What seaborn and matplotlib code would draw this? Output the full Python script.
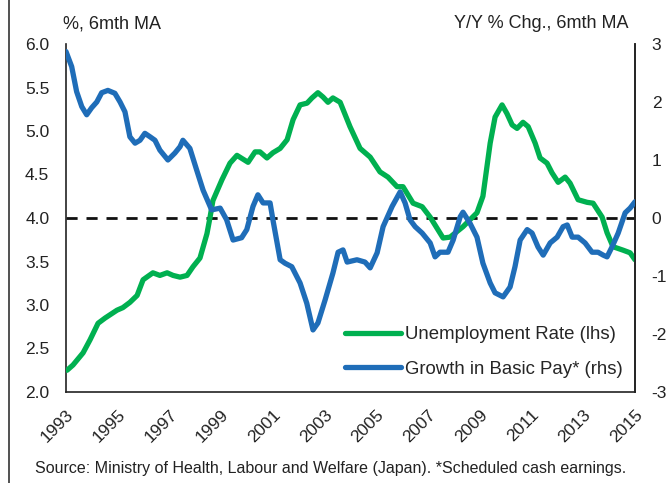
import matplotlib
matplotlib.use("Agg")
import matplotlib.pyplot as plt
import seaborn as sns
import pandas as pd
from matplotlib.lines import Line2D

sns.set_style("white")
plt.rcParams['font.family'] = ['Liberation Sans', 'DejaVu Sans']

# Unemployment rate (lhs, %, 6mth MA)
unemp_years = [1993.04, 1993.27, 1993.66, 1993.93, 1994.24, 1994.51, 1994.97, 1995.20, 1995.47,
               1995.75, 1995.98, 1996.36, 1996.63, 1996.91, 1997.14, 1997.41, 1997.68, 1997.91,
               1998.18, 1998.45, 1998.57, 1998.68, 1999.03, 1999.34, 1999.61, 2000.04, 2000.31,
               2000.50, 2000.77, 2001.00, 2001.28, 2001.55, 2001.78, 2002.05, 2002.32, 2002.51,
               2002.74, 2002.94, 2003.13, 2003.32, 2003.60, 2003.98, 2004.37, 2004.76, 2005.14,
               2005.45, 2005.80, 2006.03, 2006.42, 2006.77, 2007.08, 2007.58, 2007.85, 2008.35,
               2008.89, 2009.12, 2009.40, 2009.59, 2009.86, 2010.05, 2010.25, 2010.44, 2010.67,
               2010.87, 2011.14, 2011.33, 2011.60, 2011.79, 2012.03, 2012.30, 2012.49, 2012.80,
               2013.15, 2013.38, 2013.73, 2013.92, 2014.15, 2014.54, 2014.81, 2015.00]
unemp_rate = [2.25, 2.31, 2.45, 2.60, 2.79, 2.85, 2.94, 2.97, 3.03,
              3.11, 3.29, 3.37, 3.34, 3.37, 3.34, 3.32, 3.34, 3.44,
              3.54, 3.82, 4.01, 4.20, 4.44, 4.63, 4.72, 4.64, 4.76,
              4.76, 4.69, 4.75, 4.80, 4.90, 5.13, 5.30, 5.32, 5.38,
              5.44, 5.39, 5.33, 5.38, 5.33, 5.05, 4.80, 4.70, 4.53,
              4.47, 4.36, 4.36, 4.17, 4.13, 4.01, 3.77, 3.78, 3.90,
              4.06, 4.25, 4.86, 5.16, 5.30, 5.20, 5.07, 5.03, 5.10,
              5.05, 4.86, 4.69, 4.63, 4.52, 4.41, 4.47, 4.40, 4.21,
              4.18, 4.17, 4.01, 3.83, 3.67, 3.63, 3.60, 3.52]

# Growth in basic pay (rhs, Y/Y % chg., 6mth MA)
pay_years = [1993.00, 1993.22, 1993.41, 1993.61, 1993.80, 1993.99, 1994.19, 1994.38, 1994.62,
             1994.89, 1995.09, 1995.28, 1995.47, 1995.67, 1995.86, 1996.05, 1996.25, 1996.44,
             1996.63, 1996.94, 1997.21, 1997.41, 1997.52, 1997.79, 1998.05, 1998.30, 1998.63,
             1998.96, 1999.21, 1999.46, 1999.79, 1999.99, 2000.23, 2000.42, 2000.62, 2000.89,
             2001.00, 2001.28, 2001.47, 2001.73, 2002.05, 2002.31, 2002.55, 2002.74, 2003.02,
             2003.32, 2003.52, 2003.71, 2003.87, 2004.25, 2004.56, 2004.76, 2005.03, 2005.26,
             2005.61, 2005.92, 2006.11, 2006.30, 2006.50, 2006.77, 2007.08, 2007.27, 2007.46,
             2007.77, 2007.97, 2008.24, 2008.35, 2008.62, 2008.89, 2009.12, 2009.40, 2009.59,
             2009.90, 2010.17, 2010.36, 2010.56, 2010.83, 2011.02, 2011.25, 2011.45, 2011.72,
             2011.99, 2012.22, 2012.38, 2012.57, 2012.80, 2013.07, 2013.34, 2013.57, 2013.77,
             2013.92, 2014.11, 2014.35, 2014.62, 2014.81, 2015.00]
pay_growth = [2.87, 2.61, 2.18, 1.92, 1.78, 1.90, 2.00, 2.16, 2.20,
              2.15, 2.00, 1.83, 1.40, 1.29, 1.34, 1.46, 1.40, 1.34,
              1.17, 1.00, 1.12, 1.23, 1.34, 1.20, 0.83, 0.48, 0.14,
              0.17, -0.03, -0.38, -0.34, -0.20, 0.20, 0.40, 0.26, 0.26,
              -0.03, -0.72, -0.78, -0.84, -1.12, -1.47, -1.93, -1.81, -1.41,
              -0.95, -0.59, -0.55, -0.76, -0.72, -0.76, -0.86, -0.60, -0.15,
              0.20, 0.45, 0.26, -0.03, -0.15, -0.26, -0.43, -0.67, -0.59,
              -0.59, -0.38, 0.02, 0.10, -0.09, -0.33, -0.78, -1.12, -1.29,
              -1.36, -1.19, -0.84, -0.38, -0.20, -0.26, -0.50, -0.64, -0.43,
              -0.33, -0.15, -0.12, -0.33, -0.33, -0.43, -0.59, -0.59, -0.64,
              -0.67, -0.50, -0.26, 0.09, 0.17, 0.28]

x_ticks = list(range(1993, 2016, 2))
left_ticks = [2.0, 2.5, 3.0, 3.5, 4.0, 4.5, 5.0, 5.5, 6.0]
right_ticks = [-3, -2, -1, 0, 1, 2, 3]

GREEN = "#00B050"
BLUE = "#1F6DB8"
TXT = "#222222"
FS = 12.5

df_u = pd.DataFrame({"year": unemp_years, "value": unemp_rate})
df_p = pd.DataFrame({"year": pay_years, "value": pay_growth})

fig = plt.figure(figsize=(6.70, 4.83), dpi=100)
ax = fig.add_axes([66/670, 1 - 392/483, (635-66)/670, (392-44)/483])
ax2 = ax.twinx()

ax.axhline(4.0, color="#111111", lw=2.0, ls=(0, (4, 3.2)), zorder=1)
sns.lineplot(data=df_u, x="year", y="value", ax=ax, color=GREEN, lw=3.8, zorder=3,
             label="Unemployment Rate (lhs)", legend=False)
sns.lineplot(data=df_p, x="year", y="value", ax=ax2, color=BLUE, lw=3.8, zorder=3,
             label="Growth in Basic Pay* (rhs)", legend=False)

ax.set_xlim(1993, 2015)
ax.set_ylim(2.0, 6.0)
ax2.set_ylim(-3, 3)
ax.set_xticks(x_ticks)
ax.set_xticklabels([str(t) for t in x_ticks], rotation=45, ha="right",
                   rotation_mode="anchor", fontsize=FS)
ax.set_yticks(left_ticks)
ax.set_yticklabels([f"{t:.1f}" for t in left_ticks], fontsize=FS)
ax2.set_yticks(right_ticks)
ax2.set_yticklabels([str(t) for t in right_ticks], fontsize=FS)
ax.set_xlabel("")
ax.set_ylabel("")
ax2.set_ylabel("")
ax.tick_params(axis="both", length=0, colors=TXT)
ax.tick_params(axis="y", pad=12)
ax.tick_params(axis="x", pad=11)
ax2.tick_params(axis="y", length=0, pad=12, colors=TXT)

for a in (ax, ax2):
    a.spines["top"].set_visible(False)
    for s in ("left", "right", "bottom"):
        a.spines[s].set_color("#222222")
        a.spines[s].set_linewidth(1.2)
    a.grid(False)
ax2.spines["left"].set_visible(False)
ax2.spines["bottom"].set_visible(False)

handles = [Line2D([0], [0], color=GREEN, lw=3.8), Line2D([0], [0], color=BLUE, lw=3.8)]
labels = ["Unemployment Rate (lhs)", "Growth in Basic Pay* (rhs)"]
ax2.legend(handles, labels, loc="upper left",
           bbox_to_anchor=((345-66)/569, (392-326)/348),
           frameon=False, fontsize=13.4, handlelength=3.0, handletextpad=0.25,
           labelspacing=0.95, borderpad=0, borderaxespad=0)

fig.text(63/670, 1 - 24/483, "%, 6mth MA", fontsize=13, ha="left", va="center", color=TXT)
fig.text(628/670, 1 - 24/483, "Y/Y % Chg., 6mth MA", fontsize=13, ha="right", va="center", color=TXT)
fig.text(331/670, 1 - 469/483,
         "Source: Ministry of Health, Labour and Welfare (Japan). *Scheduled cash earnings.",
         fontsize=11.5, ha="center", va="center", color=TXT)
fig.add_artist(Line2D([9/670, 9/670], [0, 1], transform=fig.transFigure, color="#333333", lw=1.2))

fig.savefig("out.png", dpi=100)
